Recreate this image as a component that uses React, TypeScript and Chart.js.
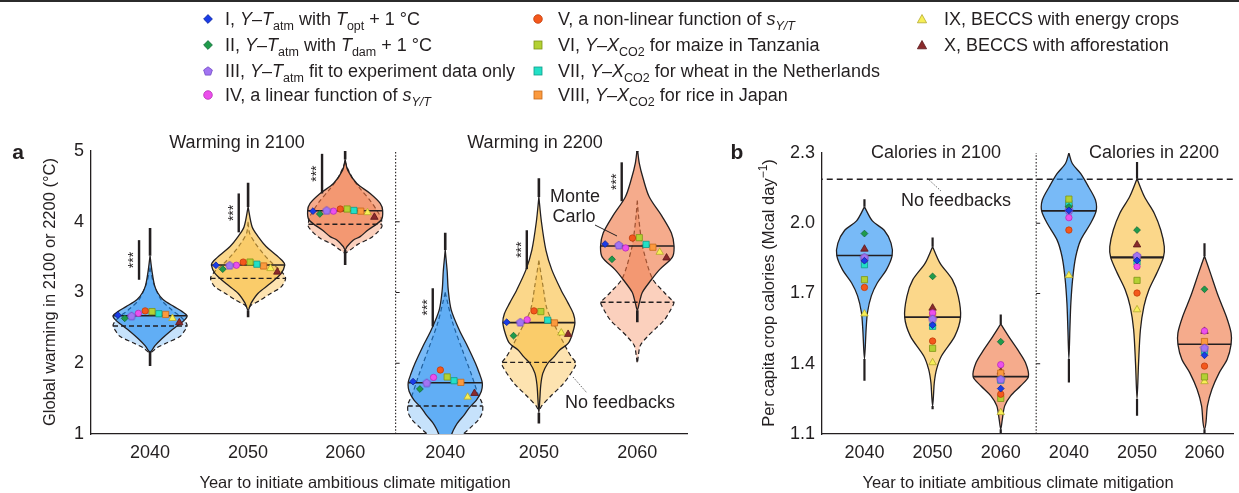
import React, { useEffect, useRef } from 'react';
import { Chart, registerables } from 'chart.js';

Chart.register(...registerables);

const FONT = '"Liberation Sans", Arial, Helvetica, sans-serif';
const INK = '#231f20';
const LABEL_FONT = `18px ${FONT}`;
const TITLE_FONT = `16.5px ${FONT}`;

// ---------------- categories & ticks ----------------
const startYears = ['2040', '2050', '2060', '2040', '2050', '2060'];
const warmingTicks = [1, 2, 3, 4, 5];
const calorieTicks = [1.1, 1.4, 1.7, 2.0, 2.3];

// ---------------- models (legend order I..X) ----------------
const modelShapes = ['rectRot', 'rectRot', 'pentagon', 'circle', 'circle', 'rect', 'rect', 'rect', 'triangle', 'triangle'];
const modelColors = ['#1a3ce8', '#1f9b4b', '#a274f2', '#ec4fec', '#f4581c', '#b3d133', '#22e0c6', '#fb9a3e', '#f7ef56', '#8a2a2c'];
const modelEdges = ['#0d2499', '#11683a', '#7047c4', '#b52fb5', '#c33c0a', '#7e9517', '#119b88', '#c66a1a', '#b2a82e', '#5a1719'];

// ---------------- panel a: model warming values (°C) ----------------
const warm2100_2040 = [2.68, 2.635, 2.67, 2.705, 2.74, 2.73, 2.70, 2.69, 2.635, 2.575];
const warm2100_2050 = [3.385, 3.33, 3.385, 3.385, 3.43, 3.43, 3.40, 3.375, 3.34, 3.29];
const warm2100_2060 = [4.15, 4.11, 4.16, 4.15, 4.18, 4.18, 4.16, 4.15, 4.13, 4.065];
const warm2200_2040 = [1.74, 1.636, 1.725, 1.80, 1.905, 1.806, 1.753, 1.73, 1.523, 1.575];
const warm2200_2050 = [2.58, 2.39, 2.58, 2.615, 2.74, 2.73, 2.61, 2.57, 2.43, 2.41];
const warm2200_2060 = [3.685, 3.47, 3.67, 3.63, 3.77, 3.775, 3.68, 3.64, 3.57, 3.49];

// ---------------- panel a: violin profiles [value, half-width] ----------------
const mcWarm2100_2040 = [[3.52, 0], [3.3, 0.02], [3.1, 0.046], [3.0, 0.077], [2.9, 0.133], [2.8, 0.246], [2.73, 0.33], [2.672, 0.38], [2.62, 0.36], [2.55, 0.30], [2.45, 0.205], [2.35, 0.123], [2.25, 0.051], [2.16, 0]];
const nfWarm2100_2040 = [[3.35, 0], [3.13, 0.036], [2.9, 0.113], [2.75, 0.226], [2.65, 0.32], [2.57, 0.37], [2.526, 0.38], [2.45, 0.35], [2.38, 0.31], [2.29, 0.175], [2.22, 0.072], [2.15, 0]];
const mcWarm2100_2050 = [[4.21, 0], [3.93, 0.041], [3.79, 0.103], [3.65, 0.185], [3.53, 0.287], [3.435, 0.36], [3.389, 0.377], [3.27, 0.34], [3.13, 0.23], [2.99, 0.103], [2.85, 0.031], [2.75, 0]];
const nfWarm2100_2050 = [[4.0, 0], [3.84, 0.015], [3.7, 0.072], [3.55, 0.154], [3.4, 0.257], [3.3, 0.34], [3.2, 0.385], [3.08, 0.34], [2.99, 0.236], [2.89, 0.123], [2.82, 0.031], [2.78, 0]];
const mcWarm2100_2060 = [[4.88, 0], [4.73, 0.026], [4.54, 0.12], [4.40, 0.257], [4.26, 0.36], [4.156, 0.385], [4.025, 0.37], [3.88, 0.231], [3.79, 0.154], [3.74, 0.082], [3.65, 0.02], [3.6, 0]];
const nfWarm2100_2060 = [[4.85, 0], [4.78, 0.017], [4.6, 0.082], [4.45, 0.164], [4.3, 0.257], [4.15, 0.33], [4.05, 0.37], [3.964, 0.377], [3.93, 0.377], [3.85, 0.33], [3.766, 0.257], [3.68, 0.13], [3.6, 0.051], [3.56, 0]];
const mcWarm2200_2040 = [[3.6, 0], [3.3, 0.02], [3.035, 0.031], [2.75, 0.062], [2.47, 0.144], [2.234, 0.231], [2.0, 0.31], [1.858, 0.35], [1.725, 0.38], [1.6, 0.37], [1.48, 0.32], [1.37, 0.246], [1.27, 0.195], [1.15, 0.123], [1.05, 0.082], [1.0, 0.067], [0.9, 0.04], [0.8, 0]];
const nfWarm2200_2040 = [[3.0, 0], [2.9, 0.017], [2.57, 0.077], [2.19, 0.175], [1.81, 0.277], [1.55, 0.34], [1.45, 0.375], [1.396, 0.385], [1.3, 0.38], [1.2, 0.34], [1.1, 0.267], [1.0, 0.185], [0.9, 0.1], [0.8, 0]];
const mcWarm2200_2050 = [[4.35, 0], [4.0, 0.026], [3.6, 0.072], [3.32, 0.133], [3.04, 0.226], [2.85, 0.30], [2.7, 0.354], [2.574, 0.37], [2.4, 0.34], [2.28, 0.30], [2.19, 0.216], [2.09, 0.154], [2.0, 0.092], [1.86, 0.041], [1.7, 0.02], [1.5, 0.01], [1.3, 0]];
const nfWarm2200_2050 = [[3.45, 0], [3.1, 0.041], [2.75, 0.087], [2.42, 0.205], [2.2, 0.287], [2.09, 0.334], [2.013, 0.377], [1.95, 0.37], [1.716, 0.254], [1.527, 0.116], [1.4, 0.03], [1.34, 0]];
const mcWarm2200_2060 = [[5.05, 0], [4.83, 0.02], [4.6, 0.062], [4.35, 0.123], [4.07, 0.257], [3.84, 0.35], [3.657, 0.377], [3.5, 0.36], [3.32, 0.226], [3.18, 0.144], [3.0, 0.051], [2.85, 0.02], [2.75, 0]];
const nfWarm2200_2060 = [[4.3, 0], [4.12, 0.01], [3.8, 0.036], [3.6, 0.062], [3.2, 0.154], [3.0, 0.277], [2.9, 0.35], [2.862, 0.377], [2.75, 0.34], [2.61, 0.277], [2.5, 0.195], [2.375, 0.103], [2.25, 0.031], [2.1, 0.01], [2.0, 0]];

const mcWarmMedians = [2.672, 3.389, 4.156, 1.725, 2.574, 3.657];
const nfWarmMedians = [2.526, 3.2, 3.964, 1.396, 2.013, 2.862];
const warmRanges = [[1.96, 3.91], [2.65, 4.55], [3.39, 5.0], [0.95, 3.845], [1.15, 4.614], [2.58, 4.99]];
const warmSignificance = [[3.18, 3.74], [3.85, 4.40], [4.40, 4.96], [2.52, 3.06], [3.33, 3.88], [4.29, 4.84]];

// ---------------- panel b: model calorie values (Mcal/day) ----------------
const cal2100_2040 = [1.84, 1.956, 1.855, 1.845, 1.726, 1.759, 1.823, 1.85, 1.613, 1.89];
const cal2100_2050 = [1.565, 1.773, 1.592, 1.617, 1.497, 1.466, 1.56, 1.605, 1.405, 1.638];
const cal2100_2060 = [1.294, 1.494, 1.334, 1.396, 1.27, 1.252, 1.33, 1.36, 1.192, 1.365];
const cal2200_2040 = [2.055, 2.07, 2.056, 2.024, 1.971, 2.103, 2.085, 2.075, 1.777, 2.082];
const cal2200_2050 = [1.841, 1.971, 1.861, 1.815, 1.702, 1.756, 1.835, 1.85, 1.631, 1.908];
const cal2200_2060 = [1.436, 1.718, 1.468, 1.54, 1.39, 1.344, 1.454, 1.495, 1.324, 1.539];

const calV2100_2040 = [[2.07, 0], [2.01, 0.116], [1.97, 0.29], [1.915, 0.39], [1.862, 0.406], [1.8, 0.319], [1.745, 0.188], [1.69, 0.101], [1.62, 0.045], [1.55, 0.025], [1.42, 0]];
const calV2100_2050 = [[1.9, 0], [1.83, 0.109], [1.759, 0.29], [1.688, 0.377], [1.599, 0.41], [1.518, 0.326], [1.433, 0.13], [1.376, 0.058], [1.32, 0.025], [1.26, 0.012], [1.22, 0]];
const calV2100_2060 = [[1.57, 0], [1.504, 0.145], [1.461, 0.246], [1.405, 0.362], [1.345, 0.406], [1.305, 0.29], [1.263, 0.145], [1.22, 0.058], [1.16, 0.022], [1.12, 0]];
const calV2200_2040 = [[2.3, 0], [2.255, 0.05], [2.212, 0.174], [2.155, 0.29], [2.099, 0.39], [2.053, 0.4], [2.0, 0.319], [1.929, 0.174], [1.858, 0.101], [1.77, 0.058], [1.66, 0.029], [1.55, 0.015], [1.42, 0]];
const calV2200_2050 = [[2.19, 0], [2.113, 0.109], [2.042, 0.254], [1.971, 0.348], [1.9, 0.4], [1.854, 0.387], [1.787, 0.29], [1.716, 0.174], [1.645, 0.101], [1.546, 0.05], [1.4, 0.022], [1.25, 0]];
const calV2200_2060 = [[1.86, 0], [1.787, 0.087], [1.688, 0.203], [1.603, 0.319], [1.532, 0.39], [1.483, 0.39], [1.419, 0.333], [1.362, 0.217], [1.291, 0.109], [1.22, 0.043], [1.15, 0.022], [1.12, 0]];

const calMedians = [1.862, 1.599, 1.345, 2.053, 1.854, 1.483];
const calRanges = [[1.327, 2.103], [1.206, 1.939], [1.08, 1.61], [1.32, 2.3], [1.178, 2.262], [1.08, 1.915]];
const noFeedbackCalories = 2.188;

// ---------------- layout (positions, not data) ----------------
const warmCenters = [0, 1.006, 2.002, 3.029, 3.99, 5.0];
const calCenters = [0, 1, 2, 3, 4, 4.99];
const markerSpread = [-0.33, -0.26, -0.19, -0.12, -0.05, 0.02, 0.09, 0.16, 0.23, 0.30];
const sigOffsets = [-0.113, -0.096, -0.237, -0.128, -0.124, -0.16];
const panelDivider = 2.52;
const violinFill = ['rgba(30,140,242,0.6)', 'rgba(248,188,60,0.6)', 'rgba(238,115,63,0.6)'];
const violinLight = ['#c6e2fb', '#fde3b0', '#fbd0bd'];

// ---------------- helpers ----------------
type Pt = { x: number; y: number };

function outlinePoints(profile: number[][], cx: number): Pt[] {
  const left = profile.map(([v, w]) => ({ x: cx - w, y: v }));
  const right = [...profile].reverse().slice(1).map(([v, w]) => ({ x: cx + w, y: v }));
  return [...left, ...right];
}
function nearestWidth(profile: number[][], v: number) {
  let best = profile[0];
  for (const p of profile) if (Math.abs(p[0] - v) < Math.abs(best[0] - v)) best = p;
  return best[1];
}
function lineDs(data: Pt[], color: string, width: number, order: number, dash: number[] = []) {
  return {
    data, showLine: true, borderColor: color, borderWidth: width, borderDash: dash,
    pointRadius: 0, pointHoverRadius: 0, fill: false, order, tension: 0, borderCapStyle: 'butt',
  };
}
function shapeDs(profile: number[][], cx: number, bg: string, dash: number[], width: number, order: number) {
  return {
    data: outlinePoints(profile, cx), showLine: true, backgroundColor: bg, borderColor: INK,
    borderWidth: width, borderDash: dash, pointRadius: 0, pointHoverRadius: 0, fill: 'shape',
    tension: 0.3, order,
  };
}
const shapeRadius: Record<string, number> = { rectRot: 3.4, circle: 3.2, rect: 4.4, triangle: 4.3, pentagon: 4 };

function pentagonImage(fill: string, stroke: string) {
  const c = document.createElement('canvas');
  c.width = 10; c.height = 10;
  const g = c.getContext('2d')!;
  g.beginPath();
  for (let k = 0; k < 5; k++) {
    const a = -Math.PI / 2 + (k * 2 * Math.PI) / 5;
    const px = 5 + 4.3 * Math.cos(a);
    const py = 5.4 + 4.3 * Math.sin(a);
    if (k) g.lineTo(px, py); else g.moveTo(px, py);
  }
  g.closePath();
  g.fillStyle = fill; g.fill();
  g.strokeStyle = stroke; g.lineWidth = 0.8; g.stroke();
  return c;
}

function markerDatasets(values: number[][], centers: number[], spread: number[] | null, pent: HTMLCanvasElement) {
  return modelColors.map((c, m) => ({
    data: values.map((vals, j) => ({ x: centers[j] + (spread ? spread[m] : 0), y: vals[m] })),
    showLine: false,
    pointStyle: modelShapes[m] === 'pentagon' ? pent : modelShapes[m],
    pointRadius: shapeRadius[modelShapes[m]],
    pointHoverRadius: shapeRadius[modelShapes[m]],
    backgroundColor: c, borderColor: modelEdges[m], borderWidth: 0.8, order: 0,
  }));
}

function axisScales(xMin: number, xMax: number, centers: number[], yMin: number, yMax: number, yTicks: number[], yWidth: number, yFmt: (v: number) => string) {
  const tickFont = { family: FONT, size: 18 };
  return {
    x: {
      type: 'linear', min: xMin, max: xMax,
      grid: { display: false, drawTicks: false, tickLength: 0 },
      border: { display: true, color: INK, width: 1.3 },
      afterBuildTicks: (s: any) => { s.ticks = centers.map((v) => ({ value: v })); },
      afterFit: (s: any) => { s.height = 59; },
      ticks: { autoSkip: false, maxRotation: 0, minRotation: 0, padding: 8, color: INK, font: tickFont, callback: (_v: any, i: number) => startYears[i] },
    },
    y: {
      type: 'linear', min: yMin, max: yMax,
      grid: { display: false, drawTicks: false, tickLength: 0 },
      border: { display: true, color: INK, width: 1.3 },
      afterBuildTicks: (s: any) => { s.ticks = yTicks.map((v) => ({ value: v })); },
      afterFit: (s: any) => { s.width = yWidth; },
      ticks: { padding: 7, color: INK, font: tickFont, callback: (v: any) => yFmt(Number(v)) },
    },
  };
}

function text(ctx: CanvasRenderingContext2D, s: string, x: number, y: number, font = LABEL_FONT, align: CanvasTextAlign = 'center') {
  ctx.font = font; ctx.textAlign = align; ctx.textBaseline = 'middle'; ctx.fillStyle = INK;
  ctx.fillText(s, x, y);
}
function leader(ctx: CanvasRenderingContext2D, x0: number, y0: number, x1: number, y1: number, dotted: boolean) {
  ctx.save();
  ctx.strokeStyle = dotted ? '#555' : INK; ctx.lineWidth = dotted ? 0.9 : 1;
  ctx.setLineDash(dotted ? [1.5, 1.5] : []);
  ctx.beginPath(); ctx.moveTo(x0, y0); ctx.lineTo(x1, y1); ctx.stroke();
  ctx.restore();
}

// ---------------- panel a config ----------------
function panelAConfig(pent: HTMLCanvasElement) {
  const mc = [mcWarm2100_2040, mcWarm2100_2050, mcWarm2100_2060, mcWarm2200_2040, mcWarm2200_2050, mcWarm2200_2060];
  const nf = [nfWarm2100_2040, nfWarm2100_2050, nfWarm2100_2060, nfWarm2200_2040, nfWarm2200_2050, nfWarm2200_2060];
  const vals = [warm2100_2040, warm2100_2050, warm2100_2060, warm2200_2040, warm2200_2050, warm2200_2060];
  const datasets: any[] = [];
  mc.forEach((prof, j) => {
    const cx = warmCenters[j];
    const col = j % 3;
    datasets.push(shapeDs(nf[j], cx, violinLight[col], [4.5, 3], 1.2, 40));
    datasets.push(shapeDs(prof, cx, violinFill[col], [], 1.3, 30));
    const wn = nearestWidth(nf[j], nfWarmMedians[j]);
    datasets.push(lineDs([{ x: cx - wn, y: nfWarmMedians[j] }, { x: cx + wn, y: nfWarmMedians[j] }], INK, 1.4, 20, [5, 3]));
    const wm = nearestWidth(prof, mcWarmMedians[j]);
    datasets.push(lineDs([{ x: cx - wm, y: mcWarmMedians[j] }, { x: cx + wm, y: mcWarmMedians[j] }], INK, 1.6, 20));
    const [lo, hi] = warmRanges[j];
    datasets.push(lineDs([{ x: cx, y: hi }, { x: cx, y: prof[0][0] }], INK, 2.6, 10));
    datasets.push(lineDs([{ x: cx, y: prof[prof.length - 1][0] }, { x: cx, y: lo }], INK, 2.6, 10));
    const [s0, s1] = warmSignificance[j];
    datasets.push(lineDs([{ x: cx + sigOffsets[j], y: s0 }, { x: cx + sigOffsets[j], y: s1 }], INK, 2.4, 10));
  });
  datasets.push(lineDs([{ x: panelDivider, y: 1 }, { x: panelDivider, y: 5 }], INK, 1.1, 50, [1.5, 1.8]));
  datasets.push(...markerDatasets(vals, warmCenters, markerSpread, pent));

  const plugin = {
    id: 'panelAText',
    afterDraw(chart: any) {
      const ctx: CanvasRenderingContext2D = chart.ctx;
      const xs = chart.scales.x; const ys = chart.scales.y;
      ctx.save();
      text(ctx, 'Warming in 2100', 237, 143);
      text(ctx, 'Warming in 2200', 535, 143);
      text(ctx, 'Monte', 575, 197);
      text(ctx, 'Carlo', 574, 217);
      text(ctx, 'No feedbacks', 620, 403);
      text(ctx, 'Year to initiate ambitious climate mitigation', 355, 483, TITLE_FONT);
      text(ctx, 'a', 18, 153, `bold 21px ${FONT}`);
      ctx.save(); ctx.translate(50, 292); ctx.rotate(-Math.PI / 2);
      text(ctx, 'Global warming in 2100 or 2200 (°C)', 0, 0, TITLE_FONT);
      ctx.restore();
      leader(ctx, 595, 225, 617, 236, false);
      leader(ctx, 573, 377, 587, 393, true);
      warmSignificance.forEach(([s0, s1], j) => {
        const x = xs.getPixelForValue(warmCenters[j] + sigOffsets[j]) - 4.5;
        const y = ys.getPixelForValue((s0 + s1) / 2);
        ctx.save(); ctx.translate(x, y); ctx.rotate(-Math.PI / 2);
        text(ctx, '***', 0, 0, `14px ${FONT}`);
        ctx.restore();
      });
      ctx.strokeStyle = INK; ctx.lineWidth = 1;
      [2, 3, 4].forEach((v) => {
        const px = xs.getPixelForValue(panelDivider); const py = ys.getPixelForValue(v);
        ctx.beginPath(); ctx.moveTo(px, py); ctx.lineTo(px + 4, py); ctx.stroke();
      });
      ctx.restore();
    },
  };

  return {
    type: 'scatter',
    data: { datasets },
    options: {
      animation: false, responsive: false, maintainAspectRatio: false, events: [],
      layout: { padding: { top: 151, right: 13, bottom: 0, left: 0 } },
      plugins: { legend: { display: false }, tooltip: { enabled: false } },
      scales: axisScales(-0.606, 5.51, warmCenters, 1, 5, warmingTicks, 91, (v) => String(v)),
    },
    plugins: [plugin],
  };
}

// ---------------- panel b config ----------------
function panelBConfig(pent: HTMLCanvasElement) {
  const prof = [calV2100_2040, calV2100_2050, calV2100_2060, calV2200_2040, calV2200_2050, calV2200_2060];
  const vals = [cal2100_2040, cal2100_2050, cal2100_2060, cal2200_2040, cal2200_2050, cal2200_2060];
  const datasets: any[] = [];
  prof.forEach((p, j) => {
    const cx = calCenters[j];
    datasets.push(shapeDs(p, cx, violinFill[j % 3], [], 1.3, 30));
    const wm = nearestWidth(p, calMedians[j]);
    datasets.push(lineDs([{ x: cx - wm, y: calMedians[j] }, { x: cx + wm, y: calMedians[j] }], INK, j === 4 ? 2.2 : 1.6, 20));
    const [lo, hi] = calRanges[j];
    datasets.push(lineDs([{ x: cx, y: hi }, { x: cx, y: p[0][0] }], INK, 2.2, 10));
    datasets.push(lineDs([{ x: cx, y: p[p.length - 1][0] }, { x: cx, y: lo }], INK, 2.2, 10));
  });
  datasets.push(lineDs([{ x: -0.7, y: noFeedbackCalories }, { x: 5.6, y: noFeedbackCalories }], INK, 1.6, 45, [6, 4]));
  datasets.push(lineDs([{ x: panelDivider, y: 1.1 }, { x: panelDivider, y: 2.3 }], INK, 1.1, 50, [1.5, 1.8]));
  datasets.push(...markerDatasets(vals, calCenters, null, pent));

  const off = 700;
  const plugin = {
    id: 'panelBText',
    afterDraw(chart: any) {
      const ctx: CanvasRenderingContext2D = chart.ctx;
      const xs = chart.scales.x; const ys = chart.scales.y;
      ctx.save();
      text(ctx, 'Calories in 2100', 936 - off, 153);
      text(ctx, 'Calories in 2200', 1154 - off, 153);
      text(ctx, 'No feedbacks', 956 - off, 201);
      text(ctx, 'Year to initiate ambitious climate mitigation', 1018 - off, 483, TITLE_FONT);
      text(ctx, 'b', 737 - off, 153, `bold 21px ${FONT}`);
      leader(ctx, 927 - off, 178, 941 - off, 191, true);
      ctx.save(); ctx.translate(768 - off, 293); ctx.rotate(-Math.PI / 2);
      const main = 'Per capita crop calories (Mcal day'; const sup = '−1'; const tail = ')';
      ctx.font = TITLE_FONT; const wMain = ctx.measureText(main).width; const wTail = ctx.measureText(tail).width;
      ctx.font = `12px ${FONT}`; const wSup = ctx.measureText(sup).width;
      let x = -(wMain + wSup + wTail) / 2;
      ctx.fillStyle = INK; ctx.textAlign = 'left'; ctx.textBaseline = 'alphabetic';
      ctx.font = TITLE_FONT; ctx.fillText(main, x, 6); x += wMain;
      ctx.font = `12px ${FONT}`; ctx.fillText(sup, x, -1); x += wSup;
      ctx.font = TITLE_FONT; ctx.fillText(tail, x, 6);
      ctx.restore();
      ctx.strokeStyle = INK; ctx.lineWidth = 1;
      [1.4, 1.7, 2.0].forEach((v) => {
        const px = xs.getPixelForValue(panelDivider); const py = ys.getPixelForValue(v);
        ctx.beginPath(); ctx.moveTo(px, py); ctx.lineTo(px + 4, py); ctx.stroke();
      });
      ctx.restore();
    },
  };

  return {
    type: 'scatter',
    data: { datasets },
    options: {
      animation: false, responsive: false, maintainAspectRatio: false, events: [],
      layout: { padding: { top: 153, right: 0, bottom: 0, left: 0 } },
      plugins: { legend: { display: false }, tooltip: { enabled: false } },
      scales: axisScales(-0.623, 5.42, calCenters, 1.1, 2.3, calorieTicks, 122, (v) => v.toFixed(1)),
    },
    plugins: [plugin],
  };
}

// ---------------- legend (HTML) ----------------
type Seg = [string, string?];
const legendEntries: Seg[][] = [
  [['I, '], ['Y', 'i'], ['–'], ['T', 'i'], ['atm', 'sub'], [' with '], ['T', 'i'], ['opt', 'sub'], [' + 1 °C']],
  [['II, '], ['Y', 'i'], ['–'], ['T', 'i'], ['atm', 'sub'], [' with '], ['T', 'i'], ['dam', 'sub'], [' + 1 °C']],
  [['III, '], ['Y', 'i'], ['–'], ['T', 'i'], ['atm', 'sub'], [' fit to experiment data only']],
  [['IV, a linear function of '], ['s', 'i'], ['Y/T', 'isub']],
  [['V, a non-linear function of '], ['s', 'i'], ['Y/T', 'isub']],
  [['VI, '], ['Y', 'i'], ['–'], ['X', 'i'], ['CO2', 'sub'], [' for maize in Tanzania']],
  [['VII, '], ['Y', 'i'], ['–'], ['X', 'i'], ['CO2', 'sub'], [' for wheat in the Netherlands']],
  [['VIII, '], ['Y', 'i'], ['–'], ['X', 'i'], ['CO2', 'sub'], [' for rice in Japan']],
  [['IX, BECCS with energy crops']],
  [['X, BECCS with afforestation']],
];
const legendMarkerX = [208, 538, 922];
const legendTextX = [225, 558, 944];
const legendRowY = [18.5, 44.5, 70.5, 95];

function MarkerIcon({ shape, color, edge }: { shape: string; color: string; edge: string }) {
  let el: any;
  if (shape === 'rectRot') el = <polygon points="6,1.6 10.4,6 6,10.4 1.6,6" />;
  else if (shape === 'circle') el = <circle cx="6" cy="6" r="4.3" />;
  else if (shape === 'rect') el = <rect x="2" y="2" width="8" height="8" />;
  else if (shape === 'triangle') el = <polygon points="6,1.5 10.6,9.8 1.4,9.8" />;
  else {
    const pts = [0, 1, 2, 3, 4].map((k) => {
      const a = -Math.PI / 2 + (k * 2 * Math.PI) / 5;
      return `${(6 + 4.6 * Math.cos(a)).toFixed(2)},${(6.4 + 4.6 * Math.sin(a)).toFixed(2)}`;
    }).join(' ');
    el = <polygon points={pts} />;
  }
  return (
    <svg width="12" height="12" viewBox="0 0 12 12" style={{ display: 'block' }}>
      <g fill={color} stroke={edge} strokeWidth="0.8">{el}</g>
    </svg>
  );
}

function LegendText({ segs }: { segs: Seg[] }) {
  return (
    <>
      {segs.map(([s, k], i) => {
        if (k === 'i') return <i key={i}>{s}</i>;
        if (k === 'sub' || k === 'isub')
          return (
            <span key={i} style={{ fontSize: 12.5, position: 'relative', top: 5, fontStyle: k === 'isub' ? 'italic' : 'normal' }}>{s}</span>
          );
        return <span key={i}>{s}</span>;
      })}
    </>
  );
}

export default function App() {
  const refA = useRef<HTMLCanvasElement>(null);
  const refB = useRef<HTMLCanvasElement>(null);

  useEffect(() => {
    const pent = pentagonImage(modelColors[2], modelEdges[2]);
    const a = new Chart(refA.current!, panelAConfig(pent) as any);
    const b = new Chart(refB.current!, panelBConfig(pent) as any);
    return () => { a.destroy(); b.destroy(); };
  }, []);

  return (
    <div style={{ position: 'absolute', left: 0, top: 0, width: 1239, height: 493, background: '#fff', overflow: 'hidden', fontFamily: FONT, color: INK }}>
      <div style={{ position: 'absolute', left: 0, top: 0, width: 1239, height: 2, background: '#2b2b2b' }} />
      <canvas ref={refA} width={700} height={493} style={{ position: 'absolute', left: 0, top: 0 }} />
      <canvas ref={refB} width={539} height={493} style={{ position: 'absolute', left: 700, top: 0 }} />
      {legendEntries.map((segs, i) => {
        const col = i < 4 ? 0 : i < 8 ? 1 : 2;
        const row = i < 4 ? i : i < 8 ? i - 4 : i - 8;
        const y = legendRowY[row];
        return (
          <React.Fragment key={i}>
            <div style={{ position: 'absolute', left: legendMarkerX[col] - 6, top: y - 6 }}>
              <MarkerIcon shape={modelShapes[i]} color={modelColors[i]} edge={modelEdges[i]} />
            </div>
            <div style={{ position: 'absolute', left: legendTextX[col], top: y - 11, height: 22, lineHeight: '22px', fontSize: 18, whiteSpace: 'nowrap' }}>
              <LegendText segs={segs} />
            </div>
          </React.Fragment>
        );
      })}
    </div>
  );
}
